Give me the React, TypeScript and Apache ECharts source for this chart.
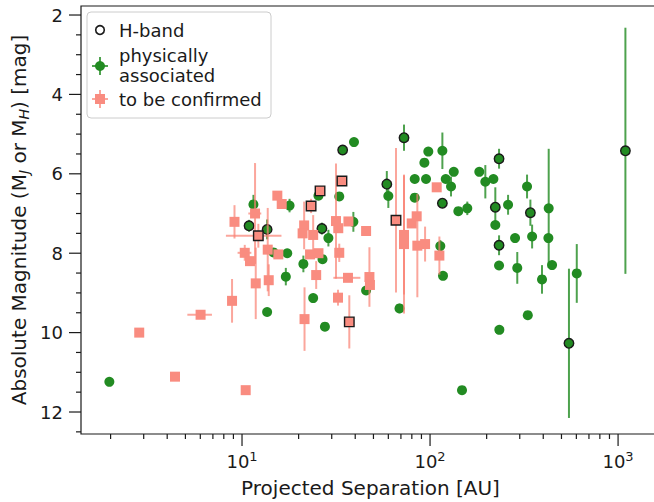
import React, { useEffect, useRef } from 'react';
import * as echarts from 'echarts';

const FONT = 'DejaVu Sans';

// ---- tick values ----
const xMajorTicks = [10, 100, 1000];
const xMinorTicks = [2, 3, 4, 5, 6, 7, 8, 9, 20, 30, 40, 50, 60, 70, 80, 90, 200, 300, 400, 500, 600, 700, 800, 900];
const yMajorTicks = [2, 4, 6, 8, 10, 12];
const yMinorTicks = [2.5, 3, 3.5, 4.5, 5, 5.5, 6.5, 7, 7.5, 8.5, 9, 9.5, 10.5, 11, 11.5, 12.5];

const X_MIN = 1.392;
const X_MAX = 1671;
const Y_MIN = 1.773;
const Y_MAX = 12.554;

// ---- physically associated (J-band) ----
const paSep = [1.97, 11.5, 17.9, 14.7, 17.4, 17.1, 13.6, 21.2, 23.9, 27.6, 26.8, 28.8, 25.5, 32.9, 39.4, 39.1, 45.7, 60.0, 68.8, 82.9, 82.9, 93.3, 97.9, 95.2, 116.3, 121.2, 129.3, 133.7, 141.4, 157.8, 113.4, 117.2, 147.9, 182.8, 196.8, 217.2, 222.4, 260, 232.8, 283.2, 291, 328, 349, 394, 331, 233.7, 427.6, 426, 445.6, 603];
const paMag = [11.24, 6.77, 6.80, 7.98, 8.00, 8.59, 9.48, 8.27, 9.13, 9.85, 8.15, 7.62, 6.55, 6.57, 5.20, 7.21, 8.94, 6.56, 9.39, 6.13, 6.60, 5.72, 5.44, 6.13, 5.42, 6.13, 6.32, 5.95, 6.94, 6.87, 7.82, 8.57, 11.45, 5.95, 6.20, 6.13, 7.29, 6.78, 8.31, 7.62, 8.37, 6.32, 7.58, 8.66, 9.56, 9.93, 6.87, 7.62, 8.30, 8.51];
const paErr = [0, 0.24, 0.17, 0, 0, 0.22, 0, 0.21, 0, 0, 0, 0.21, 0, 0, 0, 0.25, 0, 0.3, 0.12, 0, 0, 0, 0, 0, 0.46, 0, 0.25, 0, 0, 0.17, 0.15, 0.1, 0, 0, 0.42, 0, 0, 0.25, 0.1, 0, 0.4, 0.3, 0.3, 0.36, 0, 0, 1.5, 0, 0, 0.74];

// ---- physically associated (H-band) ----
const paHSep = [10.9, 13.6, 26.6, 34.3, 58.9, 72.7, 116.3, 232.8, 222.4, 232.8, 341.7, 548, 1094];
const paHMag = [7.31, 7.40, 7.38, 5.40, 6.26, 5.09, 6.74, 5.62, 6.84, 7.80, 6.98, 10.27, 5.42];
const paHErr = [0.15, 0.25, 0.15, 0, 0.33, 0.33, 0, 0.25, 0.5, 0.25, 0.33, 1.88, 3.1];

// ---- to be confirmed (J-band) ----
const tbSep = [2.84, 4.40, 10.46, 6.02, 8.85, 9.12, 11.73, 11.83, 10.34, 11.03, 13.7, 13.87, 15.41, 16.26, 15.6, 21.4, 21.0, 23.9, 23.0, 25.5, 24.8, 21.5, 31.6, 32.5, 36.8, 45.7, 32.9, 36.6, 47.6, 47.9, 32.4, 72.7, 72.7, 79.9, 84.9, 85.6, 94.1, 108.5, 112.1];
const tbMag = [10.0, 11.11, 11.45, 9.55, 9.20, 7.21, 7.00, 8.76, 7.99, 8.20, 7.91, 8.68, 6.55, 6.76, 8.03, 7.30, 7.50, 7.54, 8.03, 8.00, 8.55, 9.66, 7.19, 7.37, 7.20, 7.44, 7.99, 8.62, 8.60, 8.80, 9.12, 7.54, 7.77, 7.25, 7.07, 7.81, 7.77, 6.34, 8.06];
const tbErr = [0, 0, 0, 0, 0.55, 0.42, 1.27, 0.9, 0.2, 0, 1.05, 0.4, 0, 0, 0, 0.6, 0, 0.5, 0, 0, 0.35, 0.8, 1.45, 0, 0, 0, 0.23, 0, 0.75, 0, 0.2, 1.5, 1.75, 0, 0, 1.3, 0.44, 0, 0.48];
const tbSepErr = [0, 0, 0, 0.9, 0, 0, 0.93, 0, 0.87, 0, 0, 0, 0, 0, 0, 0, 0, 0, 0, 0, 0, 0, 0, 0, 0, 0, 0, 6, 0, 0, 0, 0, 0, 0, 0, 0, 0, 0, 0];

// ---- to be confirmed (H-band) ----
const tbHSep = [12.21, 23.3, 26.0, 34.0, 37.2, 65.9];
const tbHMag = [7.56, 6.81, 6.43, 6.18, 9.73, 7.17];
const tbHErr = [0.3, 0.18, 0, 0, 0.67, 1.82];
const tbHSepErr = [4, 0, 0, 0, 0, 0];

const GREEN = '#228B22';
const GREEN_ERR = 'rgba(34,139,34,0.8)';
const PINK = '#F98C80';
const PINK_ERR = 'rgba(250,128,114,0.7)';
const INK = '#1a1a1a';

function errRender(color: string) {
  return (params: any, api: any) => {
    const x = api.value(0);
    const y = api.value(1);
    const ye = api.value(2);
    const xe = api.value(3);
    const children: any[] = [];
    if (ye > 0) {
      const a = api.coord([x, y - ye]);
      const b = api.coord([x, y + ye]);
      children.push({ type: 'line', shape: { x1: a[0], y1: a[1], x2: b[0], y2: b[1] }, style: { stroke: color, lineWidth: 2 } });
    }
    if (xe > 0) {
      const a = api.coord([x - xe, y]);
      const b = api.coord([x + xe, y]);
      children.push({ type: 'line', shape: { x1: a[0], y1: a[1], x2: b[0], y2: b[1] }, style: { stroke: color, lineWidth: 2 } });
    }
    return { type: 'group', children };
  };
}

function tickRender(params: any, api: any) {
  const x = api.value(0);
  const y = api.value(1);
  const kind = api.value(2);
  const p = api.coord([x, y]);
  let shape;
  if (kind === 0 || kind === 1) {
    const len = kind === 0 ? 12 : 5;
    shape = { x1: p[0], y1: p[1], x2: p[0], y2: p[1] + len };
  } else {
    const len = kind === 2 ? 12 : 5;
    shape = { x1: p[0] - len, y1: p[1], x2: p[0], y2: p[1] };
  }
  return { type: 'line', shape, style: { stroke: INK, lineWidth: 1.2 } };
}

export default function App() {
  const ref = useRef<HTMLDivElement>(null);
  useEffect(() => {
    if (!ref.current) return;
    const chart = echarts.init(ref.current, null, { renderer: 'svg' });

    const zip3 = (a: number[], b: number[], e: number[], xe?: number[]) =>
      a.map((v, i) => [v, b[i], e[i], xe ? xe[i] : 0]);

    const tickData: number[][] = [
      ...xMajorTicks.map((v) => [v, Y_MAX, 0]),
      ...xMinorTicks.filter((v) => v > X_MIN && v < X_MAX).map((v) => [v, Y_MAX, 1]),
      ...yMajorTicks.map((v) => [X_MIN, v, 2]),
      ...yMinorTicks.filter((v) => v > Y_MIN && v < Y_MAX).map((v) => [X_MIN, v, 3]),
    ];

    const option: any = {
      animation: false,
      grid: {
        left: 81, top: 6, width: 579, height: 428,
        show: true, borderColor: INK, borderWidth: 1.2,
        containLabel: false, outerBoundsMode: 'none',
      },
      xAxis: {
        type: 'log', logBase: 10, min: X_MIN, max: X_MAX,
        axisLine: { show: false }, axisTick: { show: false }, splitLine: { show: false },
        minorTick: { show: false }, minorSplitLine: { show: false },
        axisLabel: {
          margin: 16,
          formatter: (v: number) => {
            const l = Math.log10(v);
            if (Math.abs(l - Math.round(l)) < 1e-6) return `{b|10}{s|${Math.round(l)}}`;
            return '';
          },
          rich: {
            b: { fontSize: 18, fontFamily: FONT, color: INK },
            s: { fontSize: 13, fontFamily: FONT, color: INK, verticalAlign: 'top', padding: [0, 0, 9, 0] },
          },
        },
        name: 'Projected Separation [AU]', nameLocation: 'middle', nameGap: 44,
        nameTextStyle: { fontSize: 20, fontFamily: FONT, color: INK },
      },
      yAxis: {
        type: 'value', inverse: true, min: Y_MIN, max: Y_MAX,
        axisLine: { show: false }, axisTick: { show: false }, splitLine: { show: false },
        axisLabel: {
          margin: 18, fontSize: 18, fontFamily: FONT, color: INK,
          formatter: (v: number) => (Math.abs(v - Math.round(v)) < 1e-6 && Math.round(v) % 2 === 0 ? String(Math.round(v)) : ''),
        },
      },
      series: [
        { type: 'custom', name: 'ticks', renderItem: tickRender, data: tickData, encode: { x: 0, y: 1 }, silent: true, clip: false, z: 5 },
        { type: 'custom', name: 'paErr', renderItem: errRender(GREEN_ERR), data: [...zip3(paSep, paMag, paErr), ...zip3(paHSep, paHMag, paHErr)], encode: { x: 0, y: 1 }, silent: true, z: 2 },
        { type: 'scatter', name: 'physically associated', data: paSep.map((v, i) => [v, paMag[i]]), symbol: 'circle', symbolSize: 10, itemStyle: { color: GREEN, opacity: 1 }, z: 2 },
        { type: 'scatter', name: 'physically associated H', data: paHSep.map((v, i) => [v, paHMag[i]]), symbol: 'circle', symbolSize: 9.5, itemStyle: { color: GREEN, borderColor: INK, borderWidth: 1.4, opacity: 1 }, z: 2 },
        { type: 'custom', name: 'tbErr', renderItem: errRender(PINK_ERR), data: [...zip3(tbSep, tbMag, tbErr, tbSepErr), ...zip3(tbHSep, tbHMag, tbHErr, tbHSepErr)], encode: { x: 0, y: 1 }, silent: true, z: 3 },
        { type: 'scatter', name: 'to be confirmed', data: tbSep.map((v, i) => [v, tbMag[i]]), symbol: 'rect', symbolSize: 10, itemStyle: { color: PINK, opacity: 1 }, z: 3 },
        { type: 'scatter', name: 'to be confirmed H', data: tbHSep.map((v, i) => [v, tbHMag[i]]), symbol: 'rect', symbolSize: 9.5, itemStyle: { color: PINK, borderColor: INK, borderWidth: 1.4, opacity: 1 }, z: 3 },
      ],
      graphic: [
        {
          type: 'text', x: 19, y: 220, rotation: Math.PI / 2, z: 10,
          style: {
            text: 'Absolute Magnitude (M{sub|J} or M{sub|H}) [mag]',
            fontSize: 20, fontFamily: FONT, fill: INK, align: 'center', verticalAlign: 'middle',
            rich: { sub: { fontSize: 14, fontStyle: 'italic', fontFamily: FONT, fill: INK, verticalAlign: 'bottom', padding: [10, 0, 0, 0] } },
          },
        },
        {
          type: 'group', z: 100,
          children: [
            { type: 'rect', shape: { x: 87, y: 12, width: 184, height: 106, r: 4 }, style: { fill: 'rgba(255,255,255,0.85)', stroke: '#cccccc', lineWidth: 1 } },
            { type: 'circle', shape: { cx: 100, cy: 30, r: 4.3 }, style: { fill: 'none', stroke: INK, lineWidth: 1.6 } },
            { type: 'text', x: 119, y: 30, style: { text: 'H-band', fontSize: 18, fontFamily: FONT, fill: INK, verticalAlign: 'middle' } },
            { type: 'line', shape: { x1: 100, y1: 57, x2: 100, y2: 75 }, style: { stroke: GREEN_ERR, lineWidth: 2 } },
            { type: 'line', shape: { x1: 92, y1: 66, x2: 108, y2: 66 }, style: { stroke: GREEN_ERR, lineWidth: 2 } },
            { type: 'circle', shape: { cx: 100, cy: 66, r: 5 }, style: { fill: GREEN } },
            { type: 'text', x: 119, y: 55, style: { text: 'physically', fontSize: 18, fontFamily: FONT, fill: INK, verticalAlign: 'middle' } },
            { type: 'text', x: 119, y: 75, style: { text: 'associated', fontSize: 18, fontFamily: FONT, fill: INK, verticalAlign: 'middle' } },
            { type: 'line', shape: { x1: 100, y1: 90, x2: 100, y2: 108 }, style: { stroke: PINK_ERR, lineWidth: 2 } },
            { type: 'line', shape: { x1: 92, y1: 99, x2: 108, y2: 99 }, style: { stroke: PINK_ERR, lineWidth: 2 } },
            { type: 'rect', shape: { x: 95, y: 94, width: 10, height: 10 }, style: { fill: PINK } },
            { type: 'text', x: 119, y: 99, style: { text: 'to be confirmed', fontSize: 18, fontFamily: FONT, fill: INK, verticalAlign: 'middle' } },
          ],
        },
      ],
    };
    chart.setOption(option);
    return () => chart.dispose();
  }, []);
  return <div ref={ref} style={{ position: 'absolute', left: 0, top: 0, width: 654, height: 502, background: '#fff' }} />;
}
